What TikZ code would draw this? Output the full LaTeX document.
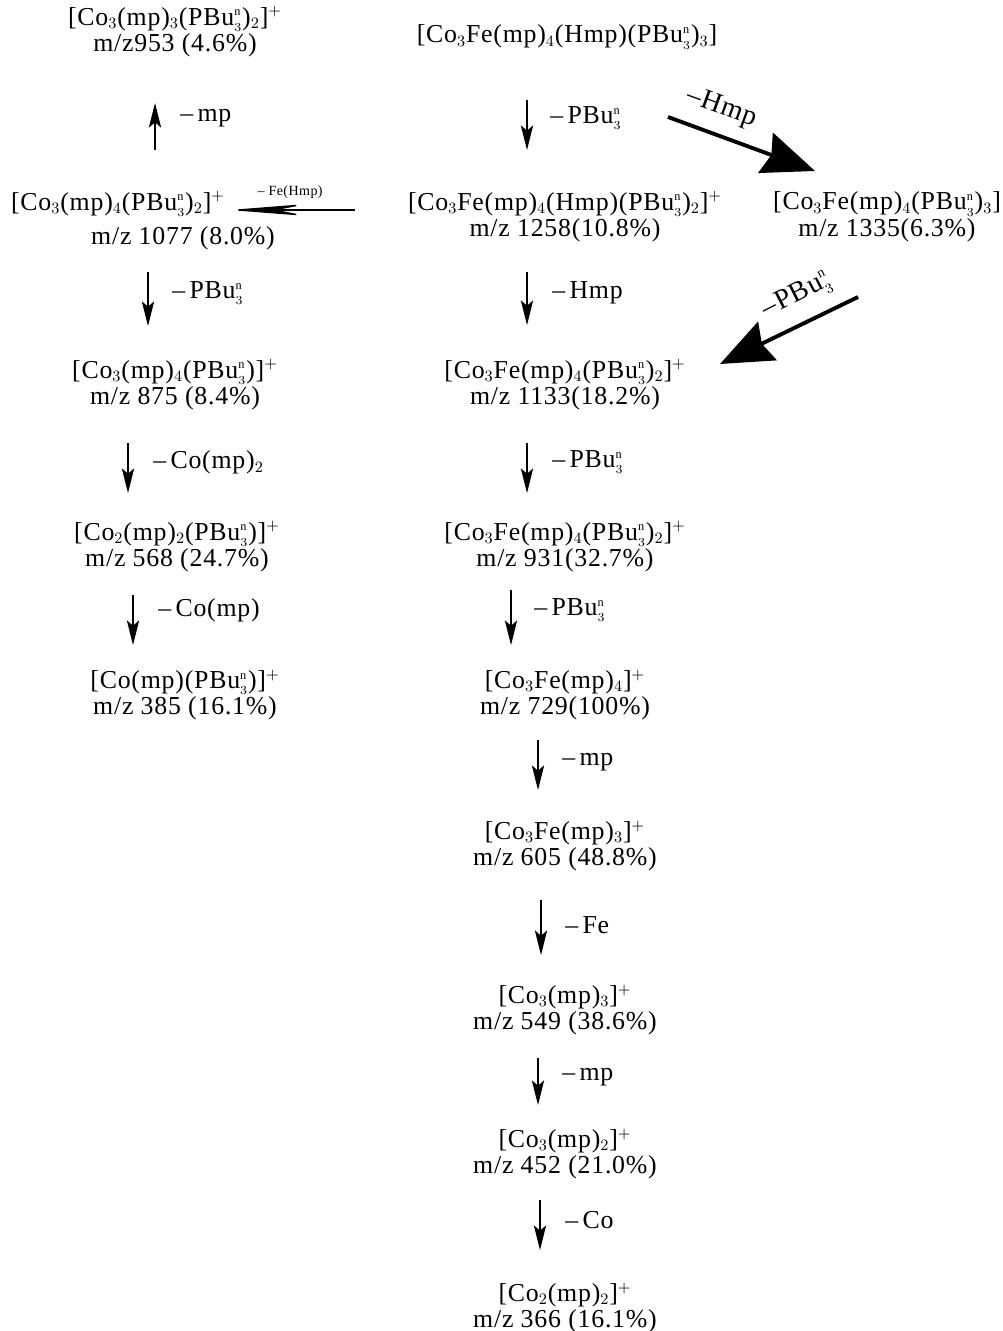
\documentclass[tikz,border=0pt]{standalone}
\usepackage{fontspec}
\setmainfont{Liberation Serif}[LetterSpace=3]
\usetikzlibrary{arrows.meta}
\DeclareMathSizes{14.7}{14.7}{9}{7}
\newcommand{\pbu}{PBu$_{\scriptscriptstyle 3}^{\scriptscriptstyle\mathrm{n}}$}

\begin{document}
\begin{tikzpicture}[x=0.02cm, y=-0.02cm, font=\fontsize{14.7}{15.2}\selectfont,
  ion/.style={align=center, inner sep=0pt},
  loss/.style={anchor=west, inner sep=0pt},
  fall/.style 2 args={-{Stealth[length=14pt, width=7pt, inset=3pt]}, line width=0.9pt,
    shorten <=#1*0.02cm, shorten >=#2*0.02cm},
  fat/.style={-{Stealth[length=1.05cm, width=0.85cm, inset=0.12cm]}, line width=2.2pt}]
  \useasboundingbox (0,0) rectangle (1002,1331);

  % left column
  \node[ion] (a1) at (175,32) {[Co$_3$(mp)$_3$(\pbu)$_2$]$^+$\\ m/z953 (4.6\%)};
  \node[ion] (a2) at (118,204) {[Co$_3$(mp)$_4$(\pbu)$_2$]$^+$};
  \node[ion] (a2z) at (183,238) {m/z 1077 (8.0\%)};
  \node[ion] (a3) at (175,385) {[Co$_3$(mp)$_4$(\pbu)]$^+$\\ m/z 875 (8.4\%)};
  \node[ion] (a4) at (177,547) {[Co$_2$(mp)$_2$(\pbu)]$^+$\\ m/z 568 (24.7\%)};
  \node[ion] (a5) at (185,695) {[Co(mp)(\pbu)]$^+$\\ m/z 385 (16.1\%)};

  % right column
  \node[ion] (b0) at (567,37) {[Co$_3$Fe(mp)$_4$(Hmp)(\pbu)$_3$]};
  \node[ion] (b1) at (565,217) {[Co$_3$Fe(mp)$_4$(Hmp)(\pbu)$_2$]$^+$\\ m/z 1258(10.8\%)};
  \node[ion] (c1) at (887,217) {[Co$_3$Fe(mp)$_4$(\pbu)$_3$]\\ m/z 1335(6.3\%)};
  \node[ion] (b2) at (565,385) {[Co$_3$Fe(mp)$_4$(\pbu)$_2$]$^+$\\ m/z 1133(18.2\%)};
  \node[ion] (b3) at (565,547) {[Co$_3$Fe(mp)$_4$(\pbu)$_2$]$^+$\\ m/z 931(32.7\%)};
  \node[ion] (b4) at (565,695) {[Co$_3$Fe(mp)$_4$]$^+$\\ m/z 729(100\%)};
  \node[ion] (b5) at (565,846) {[Co$_3$Fe(mp)$_3$]$^+$\\ m/z 605 (48.8\%)};
  \node[ion] (b6) at (565,1010) {[Co$_3$(mp)$_3$]$^+$\\ m/z 549 (38.6\%)};
  \node[ion] (b7) at (565,1154) {[Co$_3$(mp)$_2$]$^+$\\ m/z 452 (21.0\%)};
  \node[ion] (b8) at (565,1308) {[Co$_2$(mp)$_2$]$^+$\\ m/z 366 (16.1\%)};

  % losses, left
  \draw[fall={54}{71}] (a2.center -| 155,0) -- (a1.center -| 155,0);
  \node[loss] (m1) at (180,118) {\textendash\,mp};
  \draw[fall={34}{59}] (a2z.center -| 148,0) -- (a3.center -| 148,0);
  \node[loss] (m2) at (172,293) {\textendash\,\pbu};
  \draw[fall={58}{54}] (a3.center -| 128,0) -- (a4.center -| 128,0);
  \node[loss] (m3) at (153,462) {\textendash\,Co(mp)$_2$};
  \draw[fall={48}{50}] (a4.center -| 133,0) -- (a5.center -| 133,0);
  \node[loss] (m4) at (158,610) {\textendash\,Co(mp)};

  % losses, right
  \draw[fall={63}{67}] (b0.center -| 527,0) -- (b1.center -| 527,0);
  \node[loss] (n1) at (550,118) {\textendash\,\pbu};
  \draw[fall={55}{60}] (b1.center -| 527,0) -- (b2.center -| 527,0);
  \node[loss] (n2) at (552,293) {\textendash\,Hmp};
  \draw[fall={58}{54}] (b2.center -| 527,0) -- (b3.center -| 527,0);
  \node[loss] (n3) at (552,462) {\textendash\,\pbu};
  \draw[fall={43}{50}] (b3.center -| 511,0) -- (b4.center -| 511,0);
  \node[loss] (n4) at (534,610) {\textendash\,\pbu};
  \draw[fall={45}{56}] (b4.center -| 538,0) -- (b5.center -| 538,0);
  \node[loss] (n5) at (562,762) {\textendash\,mp};
  \draw[fall={54}{55}] (b5.center -| 541,0) -- (b6.center -| 541,0);
  \node[loss] (n6) at (565,925) {\textendash\,Fe};
  \draw[fall={48}{49}] (b6.center -| 538,0) -- (b7.center -| 538,0);
  \node[loss] (n7) at (562,1077) {\textendash\,mp};
  \draw[fall={46}{58}] (b7.center -| 540,0) -- (b8.center -| 540,0);
  \node[loss] (n8) at (565,1220) {\textendash\,Co};

  % side branches
  \coordinate (fe) at (355,210);
  \draw[-{Stealth[length=45pt, width=7pt, inset=18pt]}, line width=0.8pt, shorten >=4*0.02cm]
    (fe) -- (a2.east |- fe) node[midway, above=3pt, font=\fontsize{8}{9}\selectfont] {\textendash\ Fe(Hmp)};
  \coordinate (h1) at (668,117);
  \coordinate (h2) at (815,171);
  \draw[fat] (h1) -- (h2);
  \node[rotate=-20, font=\fontsize{16}{18}\selectfont] (n9) at (722,108) {\textendash Hmp};
  \coordinate (p1) at (858,297);
  \coordinate (p2) at (720,364);
  \draw[fat] (p1) -- (p2);
  \node[rotate=27, font=\fontsize{16}{18}\selectfont] (n10) at (797,296) {\textendash\pbu};
\end{tikzpicture}
\end{document}
